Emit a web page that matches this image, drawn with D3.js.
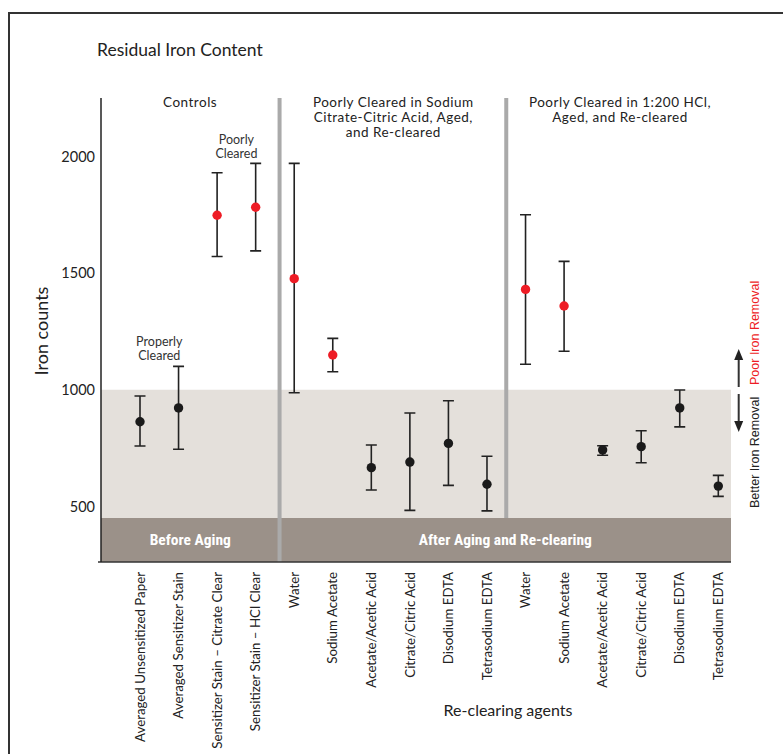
<!DOCTYPE html>
<html><head><meta charset="utf-8">
<script src="https://cdn.jsdelivr.net/npm/d3@7/dist/d3.min.js"></script>
<style>body{margin:0;background:#fff}svg{display:block}</style>
</head><body><svg id="c" width="783" height="754"></svg>
<script>
const categories = ["Averaged Unsensitized Paper","Averaged Sensitizer Stain","Sensitizer Stain – Citrate Clear","Sensitizer Stain – HCl Clear","Water","Sodium Acetate","Acetate/Acetic Acid","Citrate/Citric Acid","Disodium EDTA","Tetrasodium EDTA","Water","Sodium Acetate","Acetate/Acetic Acid","Citrate/Citric Acid","Disodium EDTA","Tetrasodium EDTA"];
const means = [863, 922, 1748, 1782, 1476, 1149, 666, 690, 770, 595, 1430, 1359, 742, 756, 922, 587];
const upper = [973, 1100, 1930, 1970, 1970, 1220, 763, 900, 953, 715, 1750, 1550, 760, 824, 999, 633];
const lower = [759, 745, 1571, 1595, 987, 1077, 570, 483, 590, 481, 1109, 1165, 719, 687, 841, 543];
const poor = [false,false,true,true,true,true,false,false,false,false,true,true,false,false,false,false];
const yTicks = [500, 1000, 1500, 2000];
const threshold = 1000;
const sectionTitles = [["Controls"],["Poorly Cleared in Sodium","Citrate-Citric Acid, Aged,","and Re-cleared"],["Poorly Cleared in 1:200 HCl,","Aged, and Re-cleared"]];
const bandLabels = ["Before Aging","After Aging and Re-clearing"];

const svg = d3.select("#c");
const FONT = "Lato, 'Open Sans', sans-serif";
const idx = d3.range(categories.length);
const x = d3.scalePoint().domain(idx).range([140, 718.3]);
const step = x.step();
const y = d3.scaleLinear().domain([500, 2000]).range([506.4, 156.4]);
const plotL = 101, plotR = 731, plotT = 98, bandT = 518, bandB = 562;
const fx = v => x(0) + v * step; // fractional position

// frame
svg.append("path").attr("d", `M9,754 L9,13 L783,13`).attr("fill","none").attr("stroke","#333").attr("stroke-width",2);

// title
svg.append("text").attr("x",97).attr("y",56).attr("font-family",FONT).attr("font-size",17.5).attr("fill","#222").text("Residual Iron Content");

// shaded region
svg.append("rect").attr("x",plotL).attr("y",y(threshold)).attr("width",plotR-plotL).attr("height",bandT-y(threshold)).attr("fill","#e4e0db");
// band
svg.append("rect").attr("x",plotL).attr("y",bandT).attr("width",plotR-plotL).attr("height",bandB-bandT).attr("fill","#9b9189");

// separators
const seps = [3.62, 9.5];
const sepEnds = [bandB, bandT];
svg.selectAll(".sep").data(seps).join("line").attr("x1",d=>fx(d)).attr("x2",d=>fx(d)).attr("y1",plotT).attr("y2",(d,i)=>sepEnds[i])
  .attr("stroke","#aaaaaa").attr("stroke-width",4);

// bottom line and axis line
svg.append("line").attr("x1",plotL-3).attr("x2",plotR).attr("y1",bandB).attr("y2",bandB).attr("stroke","#333").attr("stroke-width",1.5);
svg.append("line").attr("x1",plotL).attr("x2",plotL).attr("y1",plotT).attr("y2",bandB).attr("stroke","#222").attr("stroke-width",1.5);

// y axis ticks
const ax = svg.append("g").attr("transform",`translate(${plotL-6},0)`).call(d3.axisLeft(y).tickValues(yTicks).tickSize(0).tickPadding(0).tickFormat(d3.format("d")));
ax.select(".domain").remove();
ax.selectAll("text").attr("font-family",FONT).attr("font-size",14.5).attr("fill","#222");

// y title
svg.append("text").attr("transform","translate(42,331) rotate(-90)").attr("text-anchor","middle").attr("dy","0.35em")
  .attr("font-family",FONT).attr("font-size",18).attr("fill","#222").text("Iron counts");

// band labels
const bandCenters = [(plotL + fx(seps[0]))/2, (fx(seps[0]) + plotR)/2];
svg.selectAll(".bl").data(bandLabels).join("text").attr("x",(d,i)=>bandCenters[i]).attr("y",545)
  .attr("text-anchor","middle").attr("font-family","'Liberation Sans Narrow','Roboto Condensed',Roboto,sans-serif")
  .attr("font-weight","bold").attr("font-size",15.5).attr("fill","#fff").text(d=>d);

// section titles
const secCenters = [fx(1.3), fx(6.57), fx(12.45)];
sectionTitles.forEach((lines,i)=>{
  lines.forEach((l,j)=>svg.append("text").attr("text-anchor","middle").attr("font-family",FONT).attr("font-size",13.5).attr("letter-spacing",0.5).attr("fill","#222")
    .attr("x",secCenters[i]).attr("y",107+j*15.2).text(l));
});

// annotations
function note(lines, cx, y0){
  lines.forEach((l,j)=>svg.append("text").attr("text-anchor","middle").attr("font-family",FONT).attr("font-size",12.5).attr("fill","#333")
    .attr("x",cx).attr("y",y0+j*13.8).text(l));
}
note(["Poorly","Cleared"], (x(2)+x(3))/2, 144);
note(["Properly","Cleared"], (x(0)+x(1))/2, 346);

// error bars
const g = svg.append("g");
const cap = 5.5;
g.selectAll(".eb").data(idx).join("path")
  .attr("d", i => `M${x(i)-cap},${y(upper[i])}H${x(i)+cap}M${x(i)},${y(upper[i])}V${y(lower[i])}M${x(i)-cap},${y(lower[i])}H${x(i)+cap}`)
  .attr("fill","none").attr("stroke","#222").attr("stroke-width",1.6);
g.selectAll(".dot").data(idx).join("circle").attr("cx",i=>x(i)).attr("cy",i=>y(means[i])).attr("r",4.7)
  .attr("fill",i=>poor[i]?"#ee1c25":"#1a1a1a");

// x labels
svg.selectAll(".xl").data(idx).join("text")
  .attr("transform", i => `translate(${x(i)},572) rotate(-90)`).attr("text-anchor","end").attr("dy","0.35em")
  .attr("font-family",FONT).attr("font-size",13.3).attr("fill","#222").text(i=>categories[i]);

svg.append("text").attr("x",508).attr("y",716).attr("text-anchor","middle").attr("font-family",FONT).attr("font-size",16).attr("fill","#222").text("Re-clearing agents");

// right-side arrows and labels
const ayx = 738.7;
svg.append("line").attr("x1",ayx).attr("x2",ayx).attr("y1",387).attr("y2",357).attr("stroke","#333").attr("stroke-width",2);
svg.append("path").attr("d",`M${ayx},349L${ayx-4.5},360L${ayx+4.5},360Z`).attr("fill","#222");
svg.append("line").attr("x1",ayx).attr("x2",ayx).attr("y1",394).attr("y2",424).attr("stroke","#333").attr("stroke-width",2);
svg.append("path").attr("d",`M${ayx},432L${ayx-4.5},421L${ayx+4.5},421Z`).attr("fill","#222");
svg.append("text").attr("transform","translate(755,385) rotate(-90)").attr("dy","0.35em").attr("font-family","'Liberation Sans',Arial,sans-serif")
  .attr("font-size",12.5).attr("fill","#ee1c25").text("Poor Iron Removal");
svg.append("text").attr("transform","translate(755,508) rotate(-90)").attr("dy","0.35em").attr("font-family","'Liberation Sans',Arial,sans-serif")
  .attr("font-size",12.5).attr("fill","#222").text("Better Iron Removal");
</script></body></html>
